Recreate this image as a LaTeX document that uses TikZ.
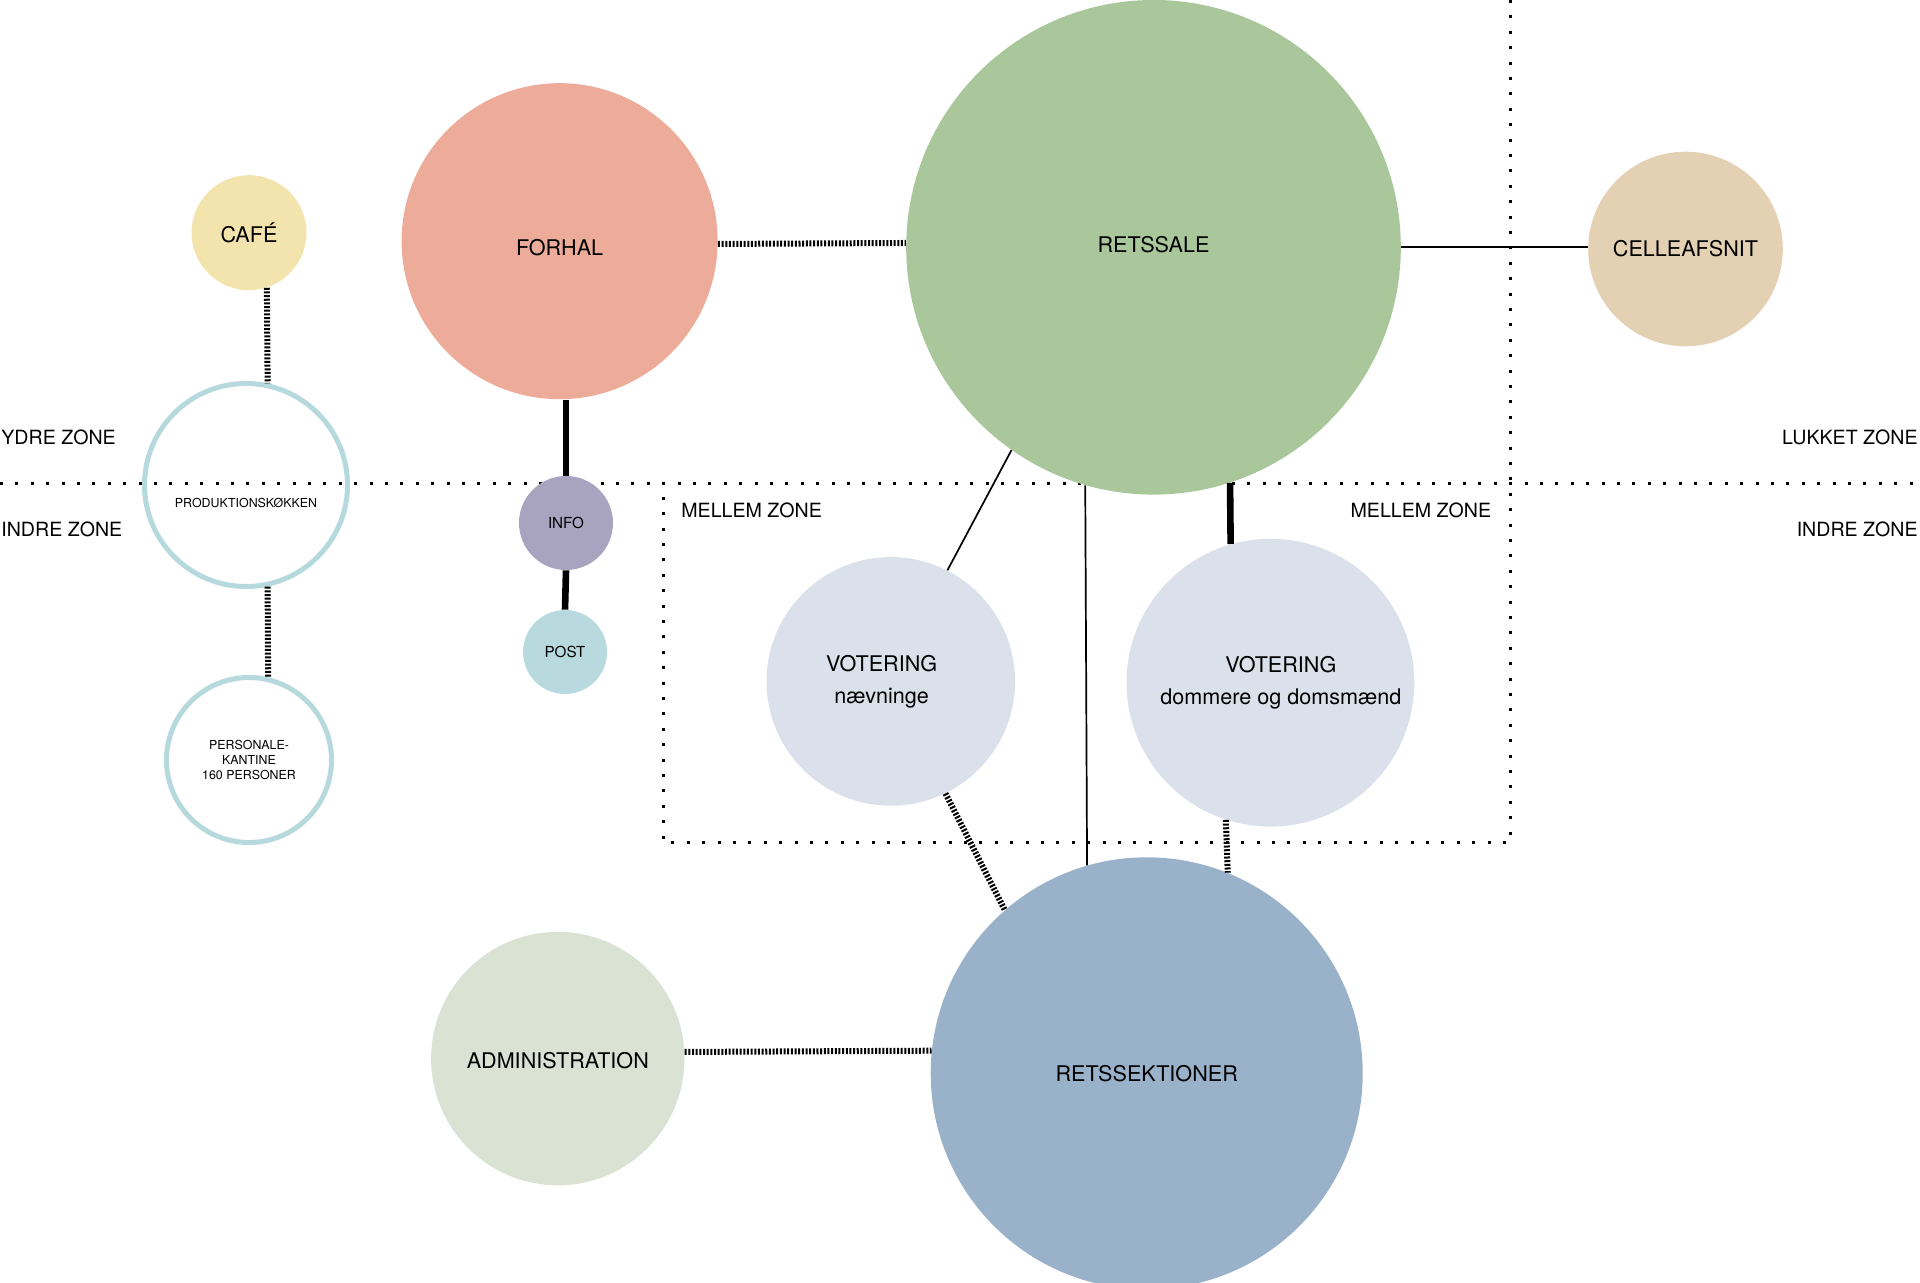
\documentclass[tikz,border=0pt]{standalone}
\usepackage{fontspec}
\setmainfont{TeX Gyre Heros}
\usepackage{xcolor}
\usetikzlibrary{calc}

\definecolor{cafegul}{HTML}{F3E4AE}
\definecolor{forhalrod}{HTML}{EDAC99}
\definecolor{salegron}{HTML}{A9C79B}
\definecolor{cellebeige}{HTML}{E4D0B3}
\definecolor{ringblaa}{HTML}{B6D9DD}
\definecolor{infolilla}{HTML}{A8A3BE}
\definecolor{postblaa}{HTML}{B8DADE}
\definecolor{votergraa}{HTML}{DAE1EA}
\definecolor{admgron}{HTML}{DAE2D4}
\definecolor{sektblaa}{HTML}{9AB2C9}

\newcommand{\stortekst}{\fontsize{10.8}{16}\selectfont}
\newcommand{\lilletekst}{\fontsize{6.2}{7.6}\selectfont}

\begin{document}
\begin{tikzpicture}[x=0.5pt, y=-0.5pt,
    rum/.style={circle, inner sep=0pt, minimum size=#1pt, align=center, font=\stortekst},
    ring/.style={circle, draw=ringblaa, line width=2.5pt, inner sep=0pt, minimum size=#1pt, align=center, font=\lilletekst},
    tekst/.style={font=\stortekst, align=center, inner sep=0pt},
    zonelinje/.style={line width=1.5pt, dash pattern=on 1.5pt off 6.2pt},
    stribet/.style={line width=3pt, dash pattern=on 1pt off 0.83pt},
    tynd/.style={line width=0.85pt},
    tyk/.style={line width=3.3pt},
    zonetekst/.style={font=\fontsize{9.8}{12}\selectfont, inner sep=0pt}]
    \useasboundingbox (0,0) rectangle (1920,1283);

    % Zonegraenser
    \draw[zonelinje] (0,483.5) -- (1920,483.5);
    \draw[zonelinje] (1510.5,0) -- (1510.5,842.5) -- (663,842.5) -- (663,483.5);

    % Rum
    \node[rum=57.5, fill=cafegul] (cafe) at (249,232.7) {CAFÉ};
    \node[rum=158, fill=forhalrod, label={[tekst, yshift=-3pt]center:FORHAL}] (forhal) at (559.6,241.2) {};
    \node[rum=247.3, fill=salegron, label={[tekst, yshift=1.2pt]center:RETSSALE}] (retssale) at (1153.5,247.3) {};
    \node[rum=97.3, fill=cellebeige] (celle) at (1685.5,249) {CELLEAFSNIT};
    \node[ring=101.5, label={[font=\lilletekst, yshift=-9.2pt]center:PRODUKTIONSKØKKEN}] (prod) at (246,485) {};
    \node[rum=47, fill=infolilla, font=\fontsize{7.6}{9}\selectfont] (info) at (566,523) {INFO};
    \node[rum=42, fill=postblaa, font=\fontsize{7.6}{9}\selectfont] (post) at (565,652) {POST};
    \node[ring=82.5] (kantine) at (249,760) {PERSONALE-\\KANTINE\\160 PERSONER};
    \node[rum=124.3, fill=votergraa, label={[tekst, xshift=-4.6pt]center:VOTERING\\nævninge}] (votn) at (890.8,681.4) {};
    \node[rum=143.9, fill=votergraa, label={[tekst, xshift=5.2pt]center:VOTERING\\dommere og domsmænd}] (votd) at (1270.4,682.7) {};
    \node[rum=126.7, fill=admgron, label={[tekst, yshift=-1.2pt]center:ADMINISTRATION}] (admin) at (557.8,1058.6) {};
    \node[rum=216, fill=sektblaa] (retssek) at (1146.7,1073.3) {RETSSEKTIONER};

    % Forbindelser
    \foreach \a/\b in {forhal.-1.4/retssale.179.5, cafe.-72/prod.78, prod.-78/kantine.77,
        votn.-64.6/retssek.131, votd.252.5/retssek.68, admin.3/retssek.174.4} {
        \draw[stribet] (\a) -- (\b);
    }
    \draw[tynd] (retssale.-0.3) -- (retssale.-0.3 -| celle.west);
    \draw[tynd] (retssale.235) -- (votn.63);
    \draw[tynd] (retssale.254.5) -- (retssek.106);
    \draw[tyk] (forhal.south -| info.north) -- (info.north);
    \draw[tyk] (info.south) -- (post.north);
    \draw[tyk] (retssale.-72) -- (votd.106.5);

    % Zonenavne
    \node[zonetekst, anchor=west] (ydre) at (1,437) {YDRE ZONE};
    \node[zonetekst, anchor=west] (indrev) at (1,529) {INDRE ZONE};
    \node[zonetekst, anchor=east] (lukket) at (1918,437) {LUKKET ZONE};
    \node[zonetekst, anchor=east] (indreh) at (1918,529) {INDRE ZONE};
    \node[zonetekst, anchor=west] (mellemv) at (681,510.6) {MELLEM ZONE};
    \node[zonetekst, anchor=east] (mellemh) at (1491.5,510.6) {MELLEM ZONE};
\end{tikzpicture}
\end{document}
